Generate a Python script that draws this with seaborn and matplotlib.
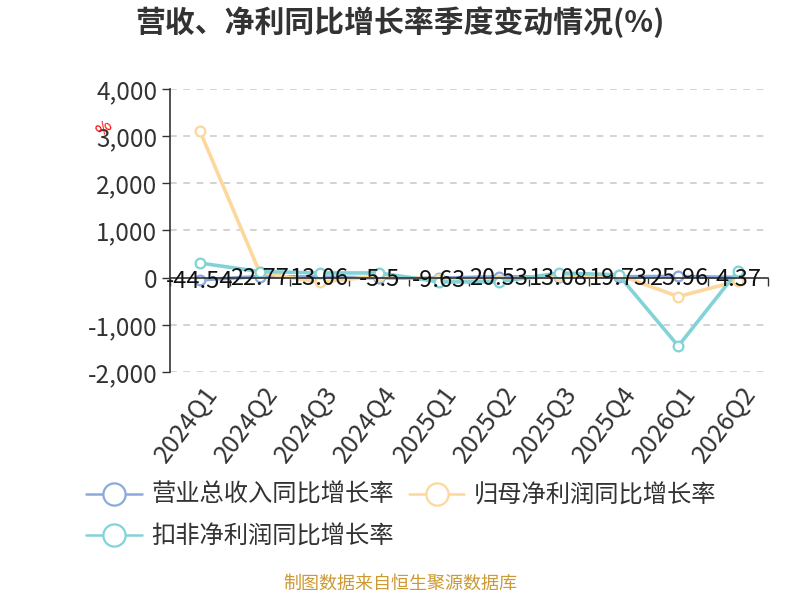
import pandas as pd
import matplotlib
matplotlib.use("Agg")
import matplotlib.pyplot as plt
import matplotlib.transforms as mtransforms
from matplotlib.lines import Line2D
from matplotlib.ticker import FuncFormatter
import seaborn as sns

sns.set_style("white")
plt.rcParams["font.family"] = ["Noto Sans CJK SC", "DejaVu Sans"]
plt.rcParams["axes.unicode_minus"] = False

# data
quarters = ["2024Q1", "2024Q2", "2024Q3", "2024Q4", "2025Q1",
            "2025Q2", "2025Q3", "2025Q4", "2026Q1", "2026Q2"]
revenue_yoy = [-44.54, 22.77, 13.06, -5.5, -9.63, 20.53, 13.08, 19.73, 25.96, 4.37]
net_profit_yoy = [3110, 110, -100, 40, -30, -40, 30, 60, -400, -70]
deducted_profit_yoy = [310, 130, 100, 100, -90, -90, 100, 60, -1450, 150]

series_names = ["营业总收入同比增长率", "归母净利润同比增长率", "扣非净利润同比增长率"]
colors = ["#8aa9dd", "#fdd89c", "#82d3d7"]
yticks = [-2000, -1000, 0, 1000, 2000, 3000, 4000]

df = pd.DataFrame({
    "quarter": quarters * 3,
    "value": revenue_yoy + net_profit_yoy + deducted_profit_yoy,
    "series": [series_names[0]] * 10 + [series_names[1]] * 10 + [series_names[2]] * 10,
})

fig = plt.figure(figsize=(8, 6), dpi=100)
ax = fig.add_axes([0.2125, 0.38, 0.7475, 0.4717])

for name, col in zip(series_names, colors):
    sub = df[df["series"] == name]
    sns.lineplot(data=sub, x="quarter", y="value", ax=ax, color=col, lw=2.6,
                 marker="o", markersize=7, markerfacecolor="white",
                 markeredgecolor=col, markeredgewidth=1.6, sort=False,
                 legend=False)

# value labels for revenue series
for i, v in enumerate(revenue_yoy):
    ax.text(i, v - 40, f"{v:g}", ha="center", va="center", fontsize=17,
            color="#111111", zorder=10)

ax.set_xlim(-0.5, len(quarters) - 0.5)
ax.set_ylim(-2000, 4000)
ax.set_yticks(yticks)
ax.yaxis.set_major_formatter(FuncFormatter(lambda v, p: f"{int(v):,}"))
ax.tick_params(axis="y", labelsize=17.5, labelcolor="#333333", length=6,
               width=1, color="#333333", direction="out", pad=3, left=True)
for y in yticks:
    if y != 0:
        ax.axhline(y, color="#cccccc", lw=1.2, ls=(0, (4, 4)), zorder=0)

ax.set_xlabel("")
ax.set_ylabel("")
for s in ["top", "right"]:
    ax.spines[s].set_visible(False)
ax.spines["left"].set_color("#333333")
ax.spines["left"].set_linewidth(1.2)
ax.spines["bottom"].set_position(("data", 0))
ax.spines["bottom"].set_color("#333333")
ax.spines["bottom"].set_linewidth(1.2)
ax.set_xticks([i - 0.5 for i in range(len(quarters) + 1)])
ax.set_xticklabels([])
ax.tick_params(axis="x", length=6, width=1, color="#333333", direction="out", bottom=True)

trans = mtransforms.blended_transform_factory(ax.transData, ax.transAxes)
for i, q in enumerate(quarters):
    ax.text(i + 0.05, -0.035, q, transform=trans, rotation=53, ha="right", va="top",
            rotation_mode="anchor", fontsize=18, color="#333333")

fig.text(0.5, 0.963, "营收、净利同比增长率季度变动情况(%)", ha="center", va="center",
         fontsize=21.5, fontweight="bold", color="#333333")
fig.text(0.13, 0.786, "%", color="red", fontsize=12, rotation=40, ha="center", va="center")

order = [0, 2, 1]
handles = [Line2D([0], [0], color=colors[k], lw=1.8, marker="o", markersize=16,
                  markerfacecolor="white", markeredgecolor=colors[k], markeredgewidth=1.6)
           for k in order]
fig.legend(handles, [series_names[k] for k in order], loc="upper left",
           bbox_to_anchor=(0.08, 0.233), ncol=2, frameon=False, fontsize=17.5,
           handlelength=2.3, handletextpad=0.4, columnspacing=0.6, labelspacing=0.65,
           labelcolor="#333333")

fig.text(0.5, 0.012, "制图数据来自恒生聚源数据库", ha="center", va="bottom",
         fontsize=13, color="#cc9933")

plt.savefig("out.png", dpi=100)
plt.close()
